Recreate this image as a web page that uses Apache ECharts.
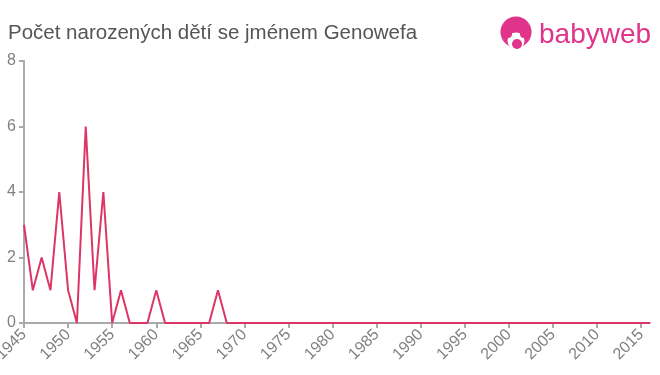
<!DOCTYPE html>
<html><head><meta charset="utf-8">
<script src="https://cdn.jsdelivr.net/npm/echarts@6/dist/echarts.min.js"></script>
<style>html,body{margin:0;padding:0;background:#fff}#c{width:660px;height:375px}</style>
</head><body><div id="c"></div>
<script>
var years = [];
for (var y = 1945; y <= 2016; y++) years.push(String(y));
var known = {1945:3,1946:1,1947:2,1948:1,1949:4,1950:1,1951:0,1952:6,1953:1,1954:4,1955:0,1956:1,1957:0,1958:0,1959:0,1960:1,1961:0,1967:1};
var counts = years.map(function(y){ return known[y] !== undefined ? known[y] : 0; });
var yTicks = [0,2,4,6,8];

var chart = echarts.init(document.getElementById('c'));
chart.setOption({
  animation:false,
  title:{text:'Počet narozených dětí se jménem Genowefa',left:3,top:18,textStyle:{fontFamily:'Liberation Sans, Arial',fontSize:20.5,fontWeight:'normal',color:'#555'}},
  graphic:[
    {type:'circle',shape:{cx:516,cy:32,r:15.5},style:{fill:'#e0338a'}},
    {type:'circle',shape:{cx:516,cy:41,r:8.5},style:{fill:'#fff'}},
    {type:'circle',shape:{cx:508,cy:34,r:4},style:{fill:'#e0338a'}},
    {type:'circle',shape:{cx:524,cy:34,r:4},style:{fill:'#e0338a'}},
    {type:'circle',shape:{cx:517,cy:44,r:5},style:{fill:'#e0338a'}},
    {type:'text',left:539,top:21,style:{text:'babyweb',fill:'#e0338a',font:'28px Liberation Sans, Arial'}}
  ],
  grid:{left:24,right:10,top:61,bottom:52,containLabel:false,outerBoundsMode:'none'},
  xAxis:{type:'category',data:years,boundaryGap:false,
    axisLine:{lineStyle:{color:'#aaa',width:2}},
    axisTick:{interval:function(i){return i%5===0;},length:5,lineStyle:{color:'#aaa',width:2}},
    axisLabel:{interval:function(i){return i%5===0;},rotate:45,color:'#808080',fontSize:16,fontFamily:'Liberation Sans, Arial',margin:9}
  },
  yAxis:{type:'value',min:0,max:8,interval:2,
    axisLine:{show:true,lineStyle:{color:'#aaa',width:2}},
    axisTick:{show:true,length:5,lineStyle:{color:'#aaa',width:2}},
    splitLine:{show:false},
    axisLabel:{color:'#808080',fontSize:16,fontFamily:'Liberation Sans, Arial',margin:8}
  },
  series:[{type:'line',data:counts,symbol:'none',lineStyle:{color:'#dc3566',width:2}}]
});
</script></body></html>
